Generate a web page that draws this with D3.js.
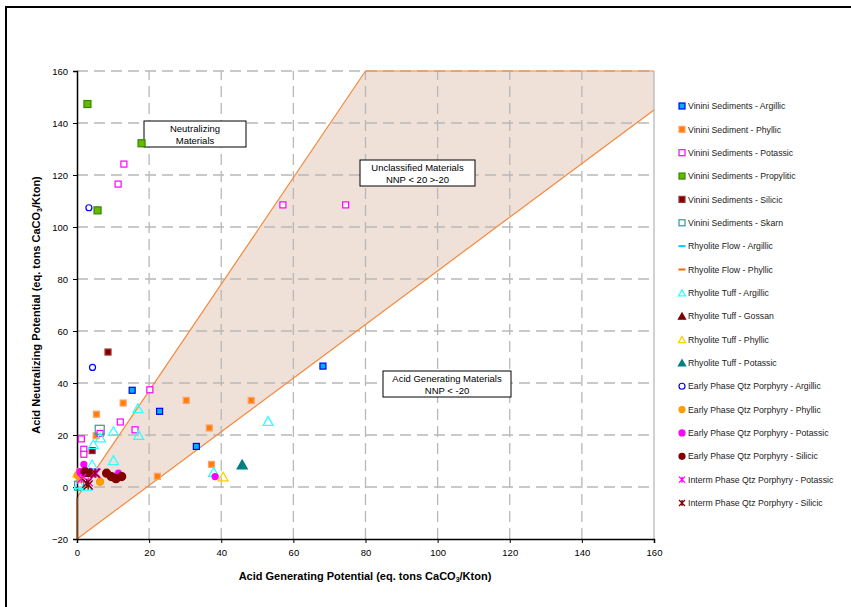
<!DOCTYPE html>
<html lang="en">
<head>
<meta charset="UTF-8">
<title>ABA plot</title>
<script src="https://d3js.org/d3.v7.min.js"></script>
<style>
    html,body{margin:0;padding:0;background:#fff;}
    svg{display:block;font-family:"Liberation Sans",Arial,sans-serif;}
</style>
</head>
<body>
<svg id="chart" width="851" height="607"></svg>
<script>
// ---- data (AGP, ANP) ----
const vininiArgillic   = [[15.3,37.2],[22.9,29.1],[33.1,15.6],[68.2,46.5]];
const vininiPhyllic    = [[5.4,28.0],[12.8,32.3],[5.3,19.7],[30.3,33.3],[36.7,22.7],[48.3,33.3],[37.3,8.7],[22.3,4.1]];
const vininiPotassic   = [[13.0,124.2],[11.4,116.5],[57.1,108.5],[74.5,108.5],[20.2,37.4],[12.0,25.0],[16.1,22.0],[1.2,18.5],[1.9,14.5],[1.9,12.6],[6.4,20.6]];
const vininiPropylitic = [[2.9,147.3],[5.7,106.4],[17.9,132.2]];
const vininiSilicic    = [[8.6,51.9],[4.2,14.0]];
const vininiSkarn      = [[6.3,22.0],[0.6,0.5]];
const flowArgillic     = [[11.4,5.3]];
const flowPhyllic      = [[0.8,4.6]];
const tuffArgillic     = [[16.9,30.3],[10.1,21.5],[6.5,19.0],[4.5,16.4],[17.1,20.0],[10.1,10.3],[4.2,8.7],[37.9,5.8],[53.0,25.4],[0.6,1.2],[2.7,0.4]];
const tuffGossan       = [[3.6,5.6]];
const tuffPhyllic      = [[40.5,4.0],[0.3,5.5]];
const tuffPotassic     = [[45.8,8.7]];
const earlyArgillic    = [[3.3,107.4],[4.3,46.0]];
const earlyPhyllic     = [[6.4,2.0],[0.2,4.5],[1.0,3.2]];
const earlyPotassic    = [[1.9,8.7],[11.5,5.3],[38.3,4.0],[0.8,5.9]];
const earlySilicic     = [[8.2,5.3],[9.5,4.0],[10.8,3.2],[12.4,4.0],[2.4,5.6],[2.2,5.9]];
const intermPotassic   = [[5.0,5.6],[5.3,5.3],[1.3,3.3],[3.1,2.0]];
const intermSilicic    = [[3.1,0.8],[2.7,1.4],[5.0,5.3]];

// classification region outline
const upperLine = [[0,-4],[80,160],[160,160]];
const lowerLine = [[0,-20],[160,145]];
const region = [[0,-20],[0,-4],[80,160],[160,160],[160,145]];

const xTicks = [0,20,40,60,80,100,120,140,160];
const yTicks = [-20,0,20,40,60,80,100,120,140,160];

const seriesNames = [
    "Vinini Sediments - Argillic","Vinini Sediment - Phyllic","Vinini Sediments - Potassic",
    "Vinini Sediments - Propylitic","Vinini Sediments - Silicic","Vinini Sediments - Skarn",
    "Rhyolite Flow  - Argillic","Rhyolite Flow  - Phyllic","Rhyolite Tuff - Argillic",
    "Rhyolite Tuff - Gossan","Rhyolite Tuff - Phyllic","Rhyolite Tuff - Potassic",
    "Early Phase Qtz Porphyry - Argillic","Early Phase Qtz Porphyry - Phyllic",
    "Early Phase Qtz Porphyry - Potassic","Early Phase Qtz Porphyry - Silicic",
    "Interm Phase Qtz Porphyry - Potassic","Interm Phase Qtz Porphyry - Silicic"
];
const seriesData = [vininiArgillic,vininiPhyllic,vininiPotassic,vininiPropylitic,vininiSilicic,vininiSkarn,
    flowArgillic,flowPhyllic,tuffArgillic,tuffGossan,tuffPhyllic,tuffPotassic,
    earlyArgillic,earlyPhyllic,earlyPotassic,earlySilicic,intermPotassic,intermSilicic];

// marker styles: shape, fill, stroke, size
const styles = [
    {shape:"square",fill:"#00b0f0",stroke:"#0000ff",s:6},
    {shape:"square",fill:"#ff7f00",stroke:"#ffa070",s:6},
    {shape:"square",fill:"#fff",stroke:"#ff00ff",s:6},
    {shape:"square",fill:"#66b800",stroke:"#2f8a00",s:7},
    {shape:"square",fill:"#800000",stroke:"#a03030",s:6},
    {shape:"square",fill:"none",stroke:"#339999",s:9},
    {shape:"dash",fill:"none",stroke:"#00ccff",s:8},
    {shape:"dash",fill:"none",stroke:"#ff6600",s:8},
    {shape:"triangle",fill:"none",stroke:"#33ffff",s:10},
    {shape:"triangle",fill:"#800000",stroke:"#800000",s:9},
    {shape:"triangle",fill:"none",stroke:"#ffcc00",s:10},
    {shape:"triangle",fill:"#008080",stroke:"#008080",s:10},
    {shape:"circle",fill:"#fff",stroke:"#0000ff",s:6},
    {shape:"circle",fill:"#ffa000",stroke:"#ff9900",s:7},
    {shape:"circle",fill:"#ff00ff",stroke:"#ff00ff",s:6},
    {shape:"circle",fill:"#800000",stroke:"#800000",s:8},
    {shape:"star",fill:"none",stroke:"#ff00ff",s:9},
    {shape:"star",fill:"none",stroke:"#800000",s:9}
];

const svg = d3.select("#chart");
const font = '"Liberation Sans",Arial,sans-serif';

// outer chart frame
svg.append("rect").attr("x",6).attr("y",7).attr("width",900).attr("height",700)
    .attr("fill","#fff").attr("stroke","#000").attr("stroke-width",2);

const x = d3.scaleLinear().domain([0,160]).range([77,654]);
const y = d3.scaleLinear().domain([-20,160]).range([539,71]);

// region fill
svg.append("path")
    .attr("d", d3.line().x(d=>x(d[0])).y(d=>y(d[1]))(region) + "Z")
    .attr("fill","#efe0d8");

// gridlines
const grid = svg.append("g");
grid.selectAll(".gx").data(xTicks.filter(d=>d>0)).join("line")
    .attr("x1",d=>x(d)).attr("x2",d=>x(d)).attr("y1",y(-20)).attr("y2",y(160))
    .attr("stroke","#b8b8b8").attr("stroke-width",1.3)
    .attr("stroke-dasharray",d=>d===160?null:"11,6");
grid.selectAll(".gy").data(yTicks.filter(d=>d>-20)).join("line")
    .attr("x1",x(0)).attr("x2",x(160)).attr("y1",d=>y(d)).attr("y2",d=>y(d))
    .attr("stroke","#b8b8b8").attr("stroke-width",1.3)
    .attr("stroke-dasharray","11,6");

// region boundaries
const ln = d3.line().x(d=>x(d[0])).y(d=>y(d[1]));
svg.append("path").attr("d",ln(upperLine)).attr("fill","none").attr("stroke","#f5883a").attr("stroke-width",1.2);
svg.append("path").attr("d",ln(lowerLine)).attr("fill","none").attr("stroke","#f5883a").attr("stroke-width",1.2);

// axes
const xAxis = svg.append("g").attr("transform",`translate(0,${y(-20)})`)
    .call(d3.axisBottom(x).tickValues(xTicks).tickSize(4).tickPadding(6));
const yAxis = svg.append("g").attr("transform",`translate(${x(0)},0)`)
    .call(d3.axisLeft(y).tickValues(yTicks).tickSize(4).tickPadding(5));
[xAxis,yAxis].forEach(a=>{
    a.select(".domain").attr("stroke","#000").attr("stroke-width",1.5);
    a.selectAll(".tick line").attr("stroke","#000");
    a.selectAll("text").attr("font-family",font).attr("font-size",9.5).attr("fill","#000");
});
// brownish left edge of region sitting on the axis
svg.append("line").attr("x1",x(0)).attr("x2",x(0)).attr("y1",y(-20)).attr("y2",y(-4))
    .attr("stroke","#9a5a2a").attr("stroke-width",1.5);

// axis titles
const xt = svg.append("text").attr("x",365).attr("y",580).attr("text-anchor","middle")
    .attr("font-family",font).attr("font-size",11).attr("font-weight","bold");
xt.append("tspan").text("Acid Generating Potential (eq. tons CaCO");
xt.append("tspan").attr("font-size",7).attr("dy",2).text("3");
xt.append("tspan").attr("dy",-2).text("/Kton)");
const yt = svg.append("text").attr("transform","translate(40,305) rotate(-90)").attr("text-anchor","middle")
    .attr("font-family",font).attr("font-size",11).attr("font-weight","bold");
yt.append("tspan").text("Acid Neutralizing Potential (eq. tons CaCO");
yt.append("tspan").attr("font-size",7).attr("dy",2).text("3");
yt.append("tspan").attr("dy",-2).text("/Kton)");

// annotation boxes
function note(cx,top,w,lines){
    svg.append("rect").attr("x",cx-w/2).attr("y",top).attr("width",w).attr("height",26)
        .attr("fill","#fff").attr("stroke","#000").attr("stroke-width",1);
    lines.forEach((t,i)=>svg.append("text").attr("x",cx).attr("y",top+11+i*12)
        .attr("text-anchor","middle").attr("font-family",font).attr("font-size",9.5).text(t));
}
note(195,121,102,["Neutralizing","Materials"]);
note(417.5,160,115,["Unclassified Materials","NNP < 20 >-20"]);
note(447,371,128,["Acid Generating Materials","NNP < -20"]);

// marker drawing
function marker(g,st,cx,cy){
    const s = st.s;
    if(st.shape==="square"){
        g.append("rect").attr("x",cx-s/2).attr("y",cy-s/2).attr("width",s).attr("height",s)
            .attr("fill",st.fill).attr("stroke",st.stroke).attr("stroke-width",1.2);
    } else if(st.shape==="circle"){
        g.append("circle").attr("cx",cx).attr("cy",cy).attr("r",s/2)
            .attr("fill",st.fill).attr("stroke",st.stroke).attr("stroke-width",1.2);
    } else if(st.shape==="triangle"){
        const h = s*0.87;
        g.append("path").attr("d",`M${cx},${cy-h/2}L${cx+s/2},${cy+h/2}L${cx-s/2},${cy+h/2}Z`)
            .attr("fill",st.fill).attr("stroke",st.stroke).attr("stroke-width",1.3);
    } else if(st.shape==="dash"){
        g.append("line").attr("x1",cx-s/2).attr("x2",cx+s/2).attr("y1",cy).attr("y2",cy)
            .attr("stroke",st.stroke).attr("stroke-width",2);
    } else {
        const r = s/2;
        g.append("path").attr("d",`M${cx-r},${cy-r}L${cx+r},${cy+r}M${cx-r},${cy+r}L${cx+r},${cy-r}M${cx},${cy-r}L${cx},${cy+r}`)
            .attr("fill","none").attr("stroke",st.stroke).attr("stroke-width",1.3);
    }
}

// points
const pts = svg.append("g");
seriesData.forEach((data,i)=>{
    data.forEach(d=>marker(pts,styles[i],x(d[0]),y(d[1])));
});

// legend
const legendY = d3.scaleLinear().domain([0,17]).range([106,503]);
const lg = svg.append("g");
seriesNames.forEach((name,i)=>{
    const st = Object.assign({},styles[i],{s:Math.min(styles[i].s,6)});
    if(st.shape==="dash") st.s = 7;
    if(st.shape==="triangle") st.s = 7;
    marker(lg,st,682,legendY(i));
    lg.append("text").attr("x",688).attr("y",legendY(i)+3.2)
        .attr("font-family",font).attr("font-size",8.7).attr("fill","#222").text(name);
});
</script>
</body>
</html>
